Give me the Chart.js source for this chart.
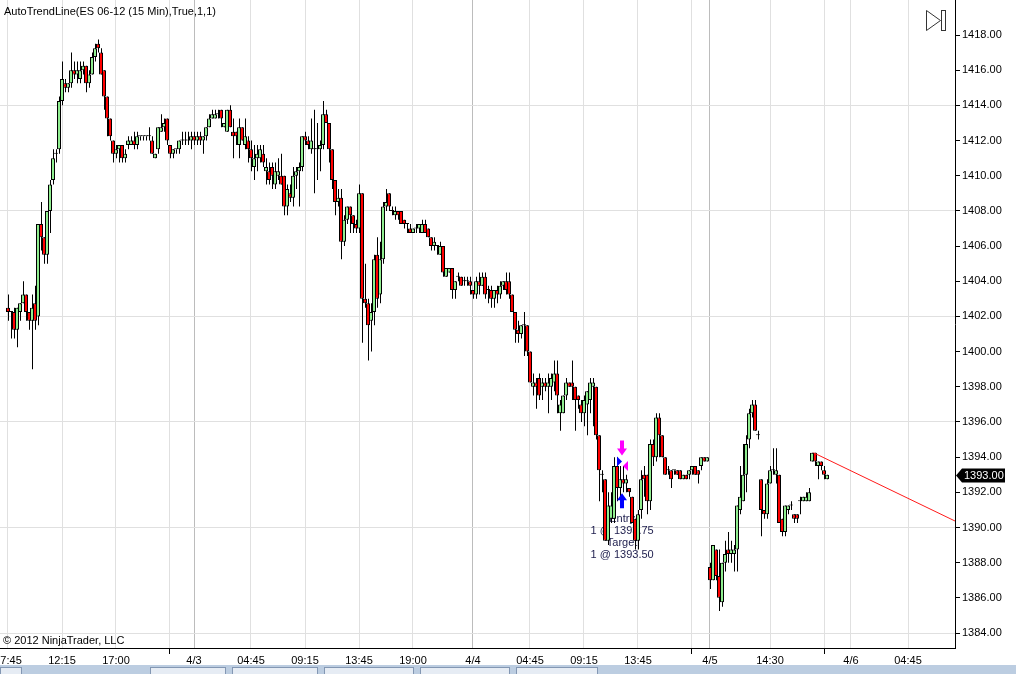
<!DOCTYPE html>
<html>
<head>
<meta charset="utf-8">
<title>AutoTrendLine ES 06-12</title>
<script src="https://cdn.jsdelivr.net/npm/chart.js"></script>
<style>
    html, body { margin: 0; padding: 0; background: #fff; }
    #wrap { width: 1016px; height: 674px; }
</style>
</head>
<body>
<div id="wrap"><canvas id="myChart" width="1016" height="674"></canvas></div>
<script>
// ES 06-12, 15 min bars (bar 0 = first bar on the left)
const barOpen = [
    1402.5, 1402.25, 1402.25, 1401.25, 1402.25, 1402.75, 1403.25, 1402.25, 1401.75, 1402.75,
    1402, 1407.25, 1406.5, 1405.5, 1408, 1409.75, 1411.25, 1411.5, 1414.25, 1415.25,
    1415, 1415.25, 1416, 1415.75, 1415.5, 1416, 1416.25, 1415.25, 1415.75, 1416.75,
    1417.5, 1417, 1416, 1414.5, 1413.25, 1412, 1411.25, 1411.5, 1411.75, 1411,
    1411.75, 1411.75, 1412, 1411.75, 1412.25, 1412.25, 1412.25, 1412.25, 1412, 1411,
    1411.5, 1412.5, 1412.75, 1413.25, 1411.75, 1411.25, 1411.5, 1411.5, 1412, 1412,
    1412, 1412, 1412.25, 1412, 1412.25, 1412, 1412.25, 1412.75, 1413.25, 1413.25,
    1413.5, 1413.75, 1412.75, 1412.5, 1413.75, 1412.5, 1412.5, 1411.75, 1412.75, 1411.75,
    1412, 1411.5, 1410.5, 1411, 1411, 1411.25, 1410.25, 1410.25, 1410.5, 1409.5,
    1410, 1410, 1410, 1408.25, 1409, 1408.75, 1410, 1410.25, 1410.5, 1412.25,
    1412, 1411.5, 1411.5, 1411.5, 1411.5, 1411.75, 1413.5, 1413, 1411.5, 1409.75,
    1408.5, 1408.75, 1406.25, 1407.5, 1408.25, 1407.75, 1407.25, 1407, 1409, 1403,
    1402.75, 1401.75, 1402.25, 1405.5, 1403.25, 1405.25, 1408.25, 1409, 1408, 1407.75,
    1408, 1408, 1407.5, 1407.25, 1407, 1406.75, 1407, 1407, 1406.75, 1407.25,
    1407, 1406.5, 1406, 1406, 1405.5, 1406, 1404.25, 1404.5, 1404.75, 1403.5,
    1404.25, 1404.25, 1404, 1404, 1404, 1403.5, 1403.25, 1404, 1403.75, 1404.25,
    1403.5, 1403.5, 1403, 1403.5, 1403.25, 1403.75, 1404, 1404, 1403.25, 1402.25,
    1401.25, 1401, 1401.5, 1401.5, 1400, 1398, 1398.25, 1398.5, 1398, 1398.25,
    1398, 1398, 1398.25, 1398.75, 1396.5, 1396.5, 1397.5, 1398.25, 1398.25, 1398,
    1397.5, 1397, 1396.5, 1397, 1397.25, 1398, 1398, 1395.25, 1393, 1392.75,
    1389.25, 1390.5, 1390.5, 1393.5, 1392.25, 1392.75, 1392.5, 1392.25, 1391.75, 1390.5,
    1389.25, 1391, 1393, 1393, 1391.5, 1394.75, 1394, 1396.25, 1395.25, 1394,
    1393.25, 1393.25, 1393.25, 1393.25, 1393.25, 1392.75, 1393, 1393, 1393.25, 1393.5,
    1393.25, 1393.5, 1394, 1393.75, 1387.75, 1387, 1388.75, 1387.25, 1385.75, 1388,
    1388.75, 1388.5, 1388.5, 1388.75, 1391, 1391.5, 1393, 1395, 1396.5, 1397,
    1395.25, 1392.75, 1391, 1390.75, 1392.5, 1393.25, 1393, 1393, 1390.5, 1389.75,
    1391, 1391.25, 1390.75, 1390.75, 1391.5, 1391.5, 1391.5, 1391.5, 1393.75, 1394.25,
    1393.5, 1393.75, 1393.25, 1392.75
];
const barHigh = [
    1403.25, 1402.25, 1402.5, 1402.5, 1402.75, 1404, 1403.25, 1402.25, 1403.25, 1403.75,
    1407.25, 1408.5, 1406.5, 1408, 1409.75, 1411.5, 1411.5, 1414.5, 1416.5, 1415.5,
    1415.25, 1417, 1416.5, 1416.5, 1416.5, 1416.5, 1416.25, 1416, 1417, 1417.5,
    1417.75, 1417.25, 1416, 1414.5, 1413.25, 1412, 1411.75, 1411.75, 1411.75, 1411.5,
    1412.25, 1412.25, 1412.5, 1412.5, 1412.25, 1412.25, 1412.25, 1412.75, 1412.25, 1411.25,
    1412.75, 1413.5, 1413.25, 1413.25, 1411.75, 1411.5, 1411.5, 1412, 1412.5, 1412.5,
    1412.5, 1412.5, 1412.5, 1412.5, 1412.5, 1412.25, 1412.75, 1413.5, 1413.75, 1413.75,
    1413.75, 1413.75, 1413, 1413.75, 1414, 1413.25, 1412.5, 1413.25, 1412.75, 1413.25,
    1412.25, 1412, 1411.75, 1411.75, 1411.75, 1411.75, 1411, 1410.75, 1410.75, 1410.75,
    1411, 1411.25, 1410, 1409.5, 1409.5, 1410.5, 1410.5, 1410.75, 1412.25, 1412.5,
    1412.25, 1413.25, 1413.75, 1413, 1412, 1414.25, 1413.75, 1413, 1411.5, 1409.75,
    1409.25, 1409.25, 1407.75, 1408.25, 1408.25, 1407.75, 1407.5, 1409.5, 1409, 1405,
    1403, 1402.75, 1405.5, 1406.5, 1406.25, 1408.5, 1409.25, 1409, 1408.25, 1408.25,
    1408, 1408, 1407.5, 1407.25, 1407.25, 1407, 1407.25, 1407.25, 1407.5, 1407.5,
    1407, 1406.5, 1406.5, 1406, 1406.25, 1406, 1404.75, 1404.75, 1404.75, 1404,
    1404.5, 1404.25, 1404.25, 1404.25, 1404.25, 1403.5, 1404.25, 1404.5, 1404.5, 1404.5,
    1403.75, 1403.75, 1403.5, 1403.75, 1404, 1404, 1404.5, 1404.5, 1403.25, 1402.25,
    1401.75, 1401.5, 1402.25, 1401.5, 1400, 1398.75, 1398.5, 1398.75, 1398.5, 1398.5,
    1398.75, 1398.75, 1399.5, 1399.5, 1397.25, 1397.5, 1398.5, 1398.25, 1399.5, 1398,
    1397.5, 1397.25, 1397.5, 1397.75, 1398.5, 1398.5, 1398, 1395.25, 1393.25, 1392.75,
    1392, 1392, 1394, 1394, 1393.5, 1393.5, 1393, 1392.25, 1391.75, 1390.5,
    1391, 1393.25, 1393.5, 1393, 1395, 1395, 1396.5, 1396.5, 1395.25, 1394,
    1393.5, 1393.25, 1393.25, 1393.25, 1393.25, 1393, 1393, 1393.25, 1393.5, 1393.5,
    1393.25, 1394, 1394, 1394, 1388, 1389, 1388.75, 1388.75, 1388, 1389.25,
    1389.75, 1389.25, 1389, 1391.25, 1393.5, 1394.75, 1395.25, 1396.75, 1397.25, 1397.25,
    1395.5, 1392.75, 1391, 1392.75, 1393.5, 1394.5, 1394.5, 1393, 1390.5, 1391.25,
    1391.25, 1391.5, 1390.75, 1390.75, 1391.75, 1391.75, 1392, 1392.25, 1394.25, 1394.25,
    1393.75, 1393.75, 1393.5, 1393
];
const barLow = [
    1401.75, 1400.75, 1400.75, 1400.25, 1401.75, 1402.75, 1401.75, 1401.25, 1399, 1401.25,
    1401.5, 1405.75, 1405, 1405, 1406.75, 1409.5, 1410.75, 1411.25, 1414, 1414.75,
    1414.75, 1415, 1415.5, 1415.25, 1415.25, 1415.75, 1414.75, 1415, 1415.75, 1416.5,
    1417, 1415.75, 1413.75, 1412.25, 1412, 1410.75, 1411, 1410.75, 1410.75, 1410.75,
    1411.5, 1411.75, 1411.5, 1411.5, 1412, 1412, 1412, 1412, 1411.25, 1411,
    1411.25, 1412.5, 1412.5, 1411.75, 1411, 1411, 1411.25, 1411.25, 1411.75, 1411.75,
    1411.75, 1411.5, 1411.75, 1411.75, 1411.75, 1411.25, 1412, 1412.75, 1413.25, 1413.25,
    1413.25, 1412.75, 1412.75, 1412.5, 1412.75, 1411, 1411.75, 1411, 1412, 1411.5,
    1410.75, 1410.25, 1409.75, 1410.25, 1410.75, 1410.5, 1409.5, 1409.5, 1409.25, 1409.25,
    1409.75, 1409.5, 1407.75, 1407.75, 1408.5, 1408.25, 1409.25, 1408.25, 1410.25, 1411.75,
    1411.5, 1411.25, 1409, 1409.75, 1410.25, 1411.5, 1413, 1410.75, 1409.25, 1407.75,
    1408.25, 1405.25, 1406, 1407.25, 1406.75, 1406.75, 1406.75, 1406.75, 1400.5, 1402.5,
    1399.5, 1400, 1401.5, 1402.5, 1402.75, 1405, 1408, 1408, 1407.75, 1407.5,
    1407.5, 1407.25, 1407, 1406.75, 1406.75, 1406.75, 1406.75, 1406.75, 1406.75, 1406.75,
    1406.5, 1405.75, 1405.75, 1405.5, 1405.5, 1404.25, 1404.25, 1404.5, 1403, 1403,
    1404, 1403.75, 1403.75, 1403.75, 1403.25, 1403, 1403, 1403.25, 1403.75, 1403,
    1402.75, 1402.5, 1402.5, 1402.75, 1403, 1403.5, 1403.25, 1403, 1402.25, 1400.5,
    1400.5, 1400.75, 1399.75, 1399.75, 1398.25, 1397.5, 1396.75, 1397.25, 1397.25, 1397.75,
    1396.5, 1397.25, 1397.75, 1396.5, 1395.5, 1396.5, 1397.25, 1398, 1397.25, 1395.5,
    1396.75, 1396, 1395.75, 1395.25, 1396.5, 1395.75, 1395, 1391.5, 1392, 1389.25,
    1389, 1390.25, 1390.25, 1391.5, 1391.75, 1392, 1392, 1391.75, 1390.25, 1388.75,
    1388.75, 1390.5, 1391.75, 1390.75, 1391, 1393.5, 1393.75, 1394, 1394, 1393,
    1393, 1392.25, 1393, 1393, 1392.75, 1392.75, 1392.75, 1392.75, 1393, 1393,
    1392.5, 1393.25, 1393.75, 1393.75, 1386.5, 1387, 1387, 1385.25, 1385.5, 1387.5,
    1388, 1388, 1387.5, 1387.5, 1390.75, 1391.5, 1392, 1394.5, 1396.25, 1395.5,
    1395, 1389.5, 1390.5, 1390.5, 1392.5, 1393, 1392.5, 1390.25, 1389.5, 1389.5,
    1390.75, 1391, 1390.25, 1390.25, 1390.75, 1391.5, 1391.5, 1391.5, 1393.75, 1393.5,
    1392.75, 1393.25, 1392.75, 1392.75
];
const barClose = [
    1402.25, 1402.25, 1401.25, 1402.5, 1402.75, 1403.25, 1402.25, 1401.75, 1402.5, 1401.75,
    1407.25, 1406.5, 1405.5, 1408, 1409.5, 1411, 1411.25, 1414.25, 1415.5, 1415,
    1415.25, 1416, 1415.75, 1416, 1416, 1416.25, 1415.25, 1415.75, 1416.75, 1417.25,
    1417.25, 1415.75, 1414.5, 1413.25, 1412.25, 1411.25, 1411.5, 1411.75, 1411, 1411.25,
    1412, 1412, 1411.75, 1412.25, 1412.25, 1412.25, 1412.25, 1412.25, 1411.25, 1411.25,
    1412.75, 1412.75, 1413, 1412, 1411.25, 1411.5, 1411.5, 1412, 1412, 1412,
    1412, 1412.25, 1412, 1412.25, 1412, 1412.25, 1412.75, 1413.25, 1413.5, 1413.5,
    1413.5, 1413.25, 1413, 1413.75, 1412.75, 1412.25, 1412.25, 1412.75, 1412, 1412.25,
    1411.5, 1411, 1411, 1411.25, 1411.5, 1410.75, 1410.5, 1409.75, 1410, 1410.25,
    1410.25, 1409.5, 1408.25, 1409.25, 1408.75, 1410, 1410.25, 1410.5, 1412.25, 1412,
    1411.75, 1412, 1411.5, 1411.5, 1411.75, 1413.5, 1413, 1411.5, 1409.75, 1408.5,
    1408.75, 1406.25, 1407.5, 1408.25, 1407.75, 1407.25, 1407, 1409, 1403, 1402.75,
    1401.5, 1402.25, 1405.25, 1403, 1405.25, 1408.25, 1408.5, 1408.25, 1408, 1408,
    1407.75, 1407.25, 1407.25, 1407.25, 1406.75, 1407, 1407, 1407.25, 1407.25, 1406.75,
    1406.5, 1406, 1406.25, 1406, 1406, 1404.5, 1404.75, 1404.75, 1403.5, 1404,
    1404.25, 1403.75, 1404, 1404, 1403.75, 1403.25, 1404, 1403.75, 1404.25, 1403.25,
    1403.5, 1403, 1403.5, 1403.25, 1403.75, 1404, 1403.5, 1403.25, 1402.25, 1401.25,
    1401, 1401.5, 1401.5, 1400, 1398.25, 1398.25, 1398, 1397.5, 1398.25, 1398,
    1398.25, 1398.5, 1398.75, 1397.5, 1397, 1397.5, 1398.25, 1398, 1398, 1397.25,
    1397.25, 1396.5, 1397.25, 1397.75, 1398.25, 1398.25, 1395.25, 1393.25, 1393, 1389.25,
    1391.25, 1391.25, 1393.5, 1392.25, 1392.75, 1392.5, 1392.75, 1392, 1390.25, 1389.25,
    1390.75, 1392.75, 1392.75, 1391.5, 1394.75, 1394, 1396.25, 1395.25, 1394, 1393,
    1393.25, 1392.75, 1393.25, 1393, 1392.75, 1393, 1392.75, 1393.25, 1393.5, 1393,
    1393, 1394, 1393.75, 1394, 1387, 1389, 1387.25, 1386, 1388, 1388.5,
    1388.5, 1388.75, 1388.75, 1391.25, 1391.75, 1393, 1394.75, 1396.5, 1397, 1395.5,
    1395.25, 1391, 1390.75, 1392.5, 1393.25, 1393.25, 1393.25, 1390.25, 1389.75, 1391.25,
    1391.25, 1391.25, 1390.5, 1390.5, 1391.5, 1391.75, 1391.75, 1392, 1394.25, 1393.75,
    1393.75, 1393.5, 1393, 1393
];

// time axis: bar index of each tick and its label ('' = tick mark only)
const timeTickIdx = [0, 18, 36, 54, 62, 81, 99, 117, 135, 155, 174, 192, 210, 228, 234, 254, 272, 281, 300];
const timeTickLabels = ['07:45', '12:15', '17:00', '', '4/3', '04:45', '09:15', '13:45', '19:00',
    '4/4', '04:45', '09:15', '13:45', '', '4/5', '14:30', '', '4/6', '04:45'];
const sessionBreakIdx = [62, 155, 234];
const priceTicks = [1384, 1386, 1388, 1390, 1392, 1394, 1396, 1398, 1400, 1402,
    1404, 1406, 1408, 1410, 1412, 1414, 1416, 1418];

// visible bar range: 3 px per bar, bar centres on whole pixels
const firstSlot = -8 / 3;
const lastSlot = 947 / 3;
// the wick sits on the right-hand middle column of the 4 px body
const wickShift = 1 / 6;

// AutoTrendLine (bar index, price)
const trendIdx = [268.5, lastSlot];
const trendPrice = [1394.25, 1390.37];

// the one trade on the chart
const tradeIdx = 204.7;
const entryPrice = 1393.75;
const targetPrice = 1393.50;
const sellArrowPrice = 1394.1;
const buyArrowPrice = 1391.95;
const tradeTextPrice = 1390.5;
const tradeTexts = ['Entry', '1 @ 1393.75', 'Target', '1 @ 1393.50'];
const lastPrice = barClose[barClose.length - 1];

const chartFont = '"Liberation Sans", Arial, sans-serif';
Chart.defaults.font.family = chartFont;
Chart.defaults.font.size = 11;
Chart.defaults.color = '#000';

var wickData = barLow.map((lo, i) => ({ x: i + wickShift, y: [lo, barHigh[i]] }));
var bodyData = barOpen.map((o, i) => ({ x: i, y: [o, barClose[i]] }));
var bodyColors = barOpen.map((o, i) => barClose[i] > o ? '#90ee90' : (barClose[i] < o ? '#ff0000' : '#000000'));
var trendData = trendIdx.map((x, i) => ({ x: x, y: trendPrice[i] }));

function arrow(ctx, x, tipY, dir, color) {
    // dir 1 = pointing down, -1 = pointing up
    ctx.fillStyle = color;
    ctx.beginPath();
    ctx.moveTo(x, tipY);
    ctx.lineTo(x - 5, tipY - dir * 7);
    ctx.lineTo(x - 2, tipY - dir * 7);
    ctx.lineTo(x - 2, tipY - dir * 15);
    ctx.lineTo(x + 2, tipY - dir * 15);
    ctx.lineTo(x + 2, tipY - dir * 7);
    ctx.lineTo(x + 5, tipY - dir * 7);
    ctx.closePath();
    ctx.fill();
}

const decor = {
    id: 'decor',
    beforeDatasetsDraw(chart) {
        // trade text sits behind the bars
        const ctx = chart.ctx, xs = chart.scales.x, ys = chart.scales.y;
        const cx = xs.getPixelForValue(tradeIdx);
        const ty = ys.getPixelForValue(tradeTextPrice);
        ctx.save();
        ctx.font = '11px ' + chartFont;
        ctx.fillStyle = '#1c1c4c';
        ctx.textAlign = 'center';
        ctx.textBaseline = 'middle';
        tradeTexts.forEach((t, k) => ctx.fillText(t, cx, ty + k * 12));
        ctx.restore();
    },
    afterDatasetsDraw(chart) {
        const ctx = chart.ctx, xs = chart.scales.x, ys = chart.scales.y;
        const cx = Math.round(xs.getPixelForValue(tradeIdx));
        ctx.save();
        arrow(ctx, cx, ys.getPixelForValue(sellArrowPrice), 1, '#ff00ff');
        arrow(ctx, cx, ys.getPixelForValue(buyArrowPrice), -1, '#0000ff');
        let ey = ys.getPixelForValue(entryPrice);
        ctx.fillStyle = '#0000ff';
        ctx.beginPath();
        ctx.moveTo(cx - 5, ey - 5);
        ctx.lineTo(cx, ey);
        ctx.lineTo(cx - 5, ey + 5);
        ctx.closePath();
        ctx.fill();
        let xy = ys.getPixelForValue(targetPrice);
        ctx.fillStyle = '#ff00ff';
        ctx.beginPath();
        ctx.moveTo(cx + 6, xy - 5);
        ctx.lineTo(cx + 1, xy);
        ctx.lineTo(cx + 6, xy + 5);
        ctx.closePath();
        ctx.fill();
        ctx.restore();
    },
    afterDraw(chart) {
        const ctx = chart.ctx, ys = chart.scales.y, area = chart.chartArea;
        ctx.save();
        ctx.font = '11px ' + chartFont;
        ctx.fillStyle = '#000';
        ctx.textBaseline = 'middle';
        ctx.textAlign = 'left';
        ctx.fillText('AutoTrendLine(ES 06-12 (15 Min),True,1,1)', 4, 12);
        ctx.fillText('\u00a9 2012 NinjaTrader, LLC', 3, 641);

        // last price tag
        let py = Math.round(ys.getPixelForValue(lastPrice)) + 0.5;
        let ax = area.right + 1;
        ctx.fillStyle = '#000';
        ctx.beginPath();
        ctx.moveTo(ax, py);
        ctx.lineTo(ax + 6, py - 7);
        ctx.lineTo(ax + 49, py - 7);
        ctx.lineTo(ax + 49, py + 7);
        ctx.lineTo(ax + 6, py + 7);
        ctx.closePath();
        ctx.fill();
        ctx.fillStyle = '#fff';
        ctx.fillText(lastPrice.toFixed(2), ax + 8, py + 0.5);

        // scroll-to-end button
        ctx.strokeStyle = '#333';
        ctx.lineWidth = 1;
        ctx.beginPath();
        ctx.moveTo(926.5, 10.5);
        ctx.lineTo(926.5, 30.5);
        ctx.lineTo(940.5, 20.5);
        ctx.closePath();
        ctx.stroke();
        ctx.strokeRect(941.5, 10.5, 4, 20);

        // tab strip under the chart
        ctx.fillStyle = '#bccde1';
        ctx.fillRect(0, 665, 1016, 9);
        [[0, 22], [150, 226], [232, 318], [324, 414], [420, 510], [516, 598]].forEach(t => {
            ctx.fillStyle = '#e6ecf4';
            ctx.fillRect(t[0], 667, t[1] - t[0], 7);
            ctx.strokeStyle = '#8397b3';
            ctx.strokeRect(t[0] + 0.5, 667.5, t[1] - t[0] - 1, 7);
        });
        ctx.restore();
    }
};

var myChart = new Chart(document.getElementById('myChart'), {
    type: 'bar',
    data: {
        datasets: [
            {
                label: 'wick', data: wickData, backgroundColor: '#000', barThickness: 1,
                minBarLength: 1, grouped: false, inflateAmount: 0, order: 2
            },
            {
                label: 'body', data: bodyData, backgroundColor: bodyColors, borderColor: '#000',
                borderWidth: 1, borderSkipped: false, barThickness: 4, minBarLength: 1,
                grouped: false, inflateAmount: 0, order: 1
            },
            {
                type: 'line', label: 'AutoTrendLine', data: trendData, borderColor: '#ff1a1a',
                borderWidth: 1, pointRadius: 0, tension: 0, order: 0
            }
        ]
    },
    options: {
        responsive: false,
        animation: false,
        events: [],
        layout: { padding: 0 },
        plugins: { legend: { display: false }, tooltip: { enabled: false } },
        scales: {
            x: {
                type: 'linear',
                min: firstSlot,
                max: lastSlot,
                offset: false,
                afterBuildTicks: s => { s.ticks = timeTickIdx.map(v => ({ value: v })); },
                afterFit: s => { s.height = 26; s.paddingLeft = 0; s.paddingRight = 0; },
                ticks: {
                    autoSkip: false, maxRotation: 0, padding: 0,
                    callback: (v, i) => timeTickLabels[i]
                },
                grid: {
                    offset: false,
                    color: c => (c.tick && sessionBreakIdx.includes(c.tick.value)) ? '#bcbcbc' : '#e0e0e0',
                    tickColor: c => timeTickLabels[c.index] === '' ? '#000' : 'rgba(0,0,0,0)',
                    tickLength: 6
                },
                border: { display: true, color: '#000', width: 1 }
            },
            y: {
                type: 'linear',
                position: 'right',
                min: 1383.15,
                max: 1419.99,
                beginAtZero: false,
                afterBuildTicks: s => { s.ticks = priceTicks.map(v => ({ value: v })); },
                afterFit: s => { s.width = 61; s.paddingTop = 0; s.paddingBottom = 0; },
                ticks: { padding: 2, callback: v => Number(v).toFixed(2) },
                grid: {
                    color: c => (c.tick && (c.tick.value - 1384) % 6 === 0) ? '#e0e0e0' : 'rgba(0,0,0,0)',
                    tickColor: '#000',
                    tickLength: 5
                },
                border: { display: true, color: '#000', width: 1 }
            }
        }
    },
    plugins: [decor]
});
</script>
</body>
</html>
